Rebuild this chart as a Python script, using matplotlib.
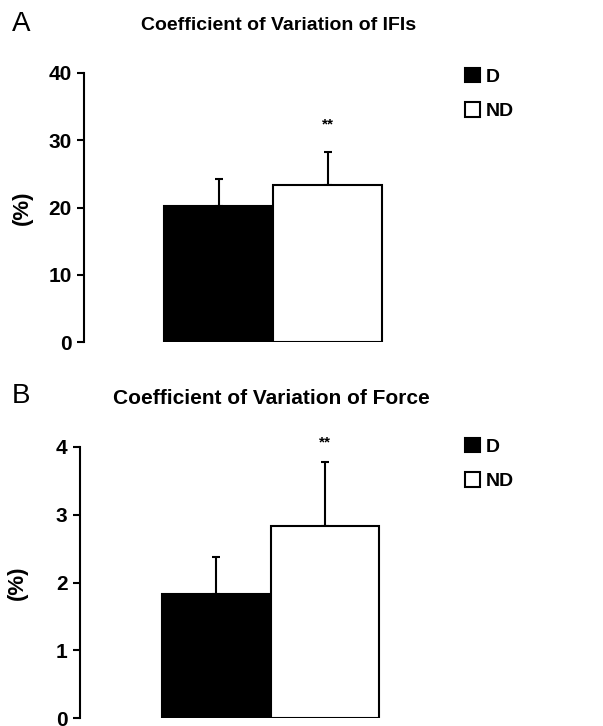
import matplotlib
matplotlib.use("Agg")
import matplotlib.pyplot as plt
from matplotlib.patches import Patch

plt.rcParams['font.family'] = ['Liberation Sans', 'DejaVu Sans']

# data
groups = ['D', 'ND']
ifi_cv = [20.2, 23.3]
ifi_err = [4.0, 5.0]
force_cv = [1.83, 2.83]
force_err = [0.55, 0.95]

fig = plt.figure(figsize=(6.03, 7.26), dpi=100)
W, H = 603.0, 726.0


def panel(left, bottom, right, top, xlim, vals, errs, ymax, yticks, star_y, leg_top):
    ax = fig.add_axes([left / W, 1 - bottom / H, (right - left) / W, (bottom - top) / H])
    colors = ['black', 'white']
    ax.bar([0, 1], vals, width=1.0, color=colors, edgecolor='black', linewidth=1.5, zorder=2)
    ax.errorbar([0, 1], vals, yerr=[[0, 0], errs], fmt='none', ecolor='black',
                elinewidth=1.5, capsize=3, capthick=1.5, zorder=1)
    ax.set_xlim(xlim)
    ax.set_ylim(0, ymax)
    ax.set_yticks(yticks)
    ax.set_xticks([])
    for s in ['top', 'right', 'bottom']:
        ax.spines[s].set_visible(False)
    ax.spines['left'].set_linewidth(1.5)
    ax.tick_params(axis='y', direction='out', length=5, width=1.5, labelsize=15, pad=4)
    for lab in ax.get_yticklabels():
        lab.set_fontweight('bold')
    ax.set_ylabel('(%)', fontsize=16, fontweight='bold')
    ax.yaxis.set_label_coords(-0.145, 0.5)
    ax.text(1, star_y, '**', ha='center', va='center', fontsize=11, fontweight='bold')
    handles = [Patch(facecolor='black', edgecolor='black', linewidth=1.5),
               Patch(facecolor='white', edgecolor='black', linewidth=1.5)]
    ax.legend(handles, groups, loc='upper left', frameon=False,
              bbox_to_anchor=(465 / W, 1 - leg_top / H), bbox_transform=fig.transFigure,
              prop={'weight': 'bold', 'size': 14}, handlelength=0.75, handleheight=0.75,
              handletextpad=0.3, labelspacing=0.85, borderpad=0, borderaxespad=0)
    return ax


axA = panel(84, 342, 440, 73, (-1.234, 2.032), ifi_cv, ifi_err, 40, [0, 10, 20, 30, 40],
            32.3, 68)
fig.text(279 / W, 1 - 25 / H, 'Coefficient of Variation of IFIs', ha='center', va='center',
         fontsize=14, fontweight='bold')
fig.text(12 / W, 1 - 24 / H, 'A', ha='left', va='center', fontsize=20)

axB = panel(80, 718, 440, 447, (-1.258, 2.06), force_cv, force_err, 4, [0, 1, 2, 3, 4],
            4.06, 438)
fig.text(271 / W, 1 - 399 / H, 'Coefficient of Variation of Force', ha='center', va='center',
         fontsize=15, fontweight='bold')
fig.text(12 / W, 1 - 396 / H, 'B', ha='left', va='center', fontsize=20)

fig.savefig('out.png', dpi=100)
